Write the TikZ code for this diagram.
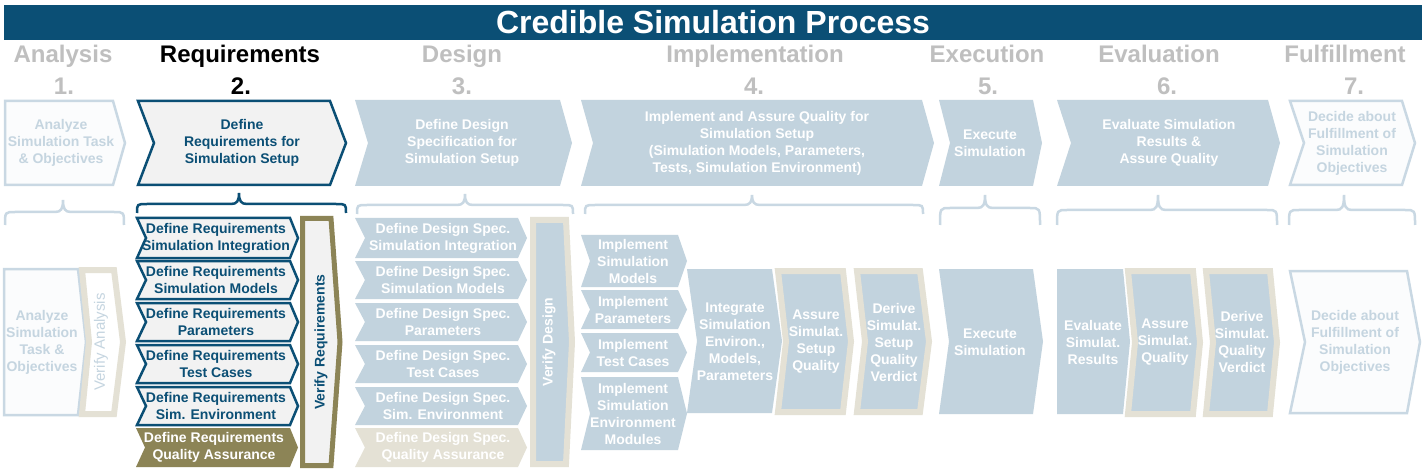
\documentclass[tikz,border=0pt]{standalone}
\usepackage{fontspec}
\setmainfont{Liberation Sans}
\definecolor{dkblue}{HTML}{0B4F75}
\definecolor{lblue}{HTML}{C2D3DE}
\definecolor{ltext}{HTML}{C5D5E0}
\definecolor{lborder}{HTML}{C9D8E3}
\definecolor{beige}{HTML}{E4E1D5}
\definecolor{olive}{HTML}{8C8456}
\definecolor{hgray}{HTML}{BFBFBF}
\definecolor{lgray}{HTML}{F2F2F2}
\definecolor{wfill}{HTML}{FBFCFD}
\newcommand{\chv}[7]{\path[#1] (#2,#3) -- (#4,#3) -- ({#4+#6},{(#3+#5)/2}) -- (#4,#5) -- (#2,#5) -- ({#2+#7},{(#3+#5)/2}) -- cycle;}
\newcommand{\brc}[7]{\draw[#1] (#2,#7) .. controls (#2,#6) and (#2,#6) .. ({#2+10},#6) -- ({#4-8},#6) .. controls ({#4-2},#6) and (#4,{#6-3}) .. (#4,#5) .. controls (#4,{#6-3}) and ({#4+2},#6) .. ({#4+8},#6) -- ({#3-10},#6) .. controls (#3,#6) and (#3,#6) .. (#3,#7);}
\tikzset{
 txt/.style={align=center, font=\fontsize{14}{17}\selectfont\bfseries, inner sep=0pt},
 wt/.style={txt, text=white},
 dt/.style={txt, text=dkblue},
 lt/.style={txt, text=ltext},
 hd/.style={font=\fontsize{24}{28}\selectfont\bfseries, text=hgray, anchor=base, inner sep=0pt},
 lb/.style={fill=lblue},
 qb/.style={fill=beige},
 topw/.style={fill=wfill, draw=lborder, line width=2.5pt},
 topr/.style={fill=lgray, draw=dkblue, line width=2.5pt},
 rq/.style={fill=lgray, draw=dkblue, line width=2.5pt},
 oq/.style={fill=olive},
 vr/.style={fill=lgray, draw=olive, line width=5pt},
 vd/.style={fill=lblue, draw=beige, line width=6pt},
 va/.style={fill=white, draw=beige, line width=6pt},
 lbr/.style={draw=lborder, line width=2.5pt},
 dbr/.style={draw=dkblue, line width=2.5pt},
}
\begin{document}
\begin{tikzpicture}[x=1pt,y=-1pt]
\useasboundingbox (0,0) rectangle (1427,473);
\fill[white] (0,0) rectangle (1427,473);
% title
\fill[dkblue] (4,5) rectangle (1422,40);
\node[font=\fontsize{32}{36}\selectfont\bfseries, text=white, anchor=base, inner sep=0pt] (title) at (713,34) {Credible Simulation Process};
% headings
\node[hd] (h1) at (63,63) {Analysis};
\node[hd, text=black] (h2) at (240,63) {Requirements};
\node[hd] (h3) at (462,63) {Design};
\node[hd] (h4) at (755,63) {Implementation};
\node[hd] (h5) at (987,63) {Execution};
\node[hd] (h6) at (1159,63) {Evaluation};
\node[hd] (h7) at (1345,63) {Fulfillment};
\node[hd] (n1) at (64,95) {1.};
\node[hd, text=black] (n2) at (241,95) {2.};
\node[hd] (n3) at (462,95) {3.};
\node[hd] (n4) at (754,95) {4.};
\node[hd] (n5) at (988,95) {5.};
\node[hd] (n6) at (1167,95) {6.};
\node[hd] (n7) at (1354,95) {7.};
% top chevrons
\chv{topw}{5}{101}{113}{185}{12}{0}
\chv{topr}{138}{101}{330}{185}{16}{16}
\chv{lb}{355}{100}{560}{186}{12}{13}
\chv{lb}{581}{100}{922}{186}{12}{12}
\chv{lb}{939}{100}{1033}{186}{9}{11}
\chv{lb}{1057}{100}{1268}{186}{12}{14}
\chv{topw}{1290}{101}{1402}{185}{13}{14}
\node[lt] (a0) at (61,143) {Analyze\\Simulation Task\\\& Objectives};
\node[dt] (r0) at (242,143) {Define\\Requirements for\\Simulation Setup};
\node[wt] (d0) at (462,143) {Define Design\\Specification for\\Simulation Setup};
\node[wt] (i0) at (757,143) {Implement and Assure Quality for\\Simulation Setup\\(Simulation Models, Parameters,\\Tests, Simulation Environment)};
\node[wt] (e0) at (990,143) {Execute\\Simulation};
\node[wt] (v0) at (1169,143) {Evaluate Simulation\\Results \&\\Assure Quality};
\node[lt] (f0) at (1352,143) {Decide about\\Fulfillment of\\Simulation\\Objectives};
% braces
\brc{lbr}{5}{124}{63}{200}{212}{225}
\brc{dbr}{137}{346}{239}{193}{204}{213}
\brc{lbr}{357}{573}{465}{194}{205}{214}
\brc{lbr}{585}{923}{752}{195}{205}{214}
\brc{lbr}{940}{1040}{985}{195}{208}{225}
\brc{lbr}{1057}{1277}{1158}{195}{210}{225}
\brc{lbr}{1289}{1415}{1344}{195}{210}{225}
% analysis bottom
\path[topw] (4,269) -- (78,269) -- (86,342) -- (78,415) -- (4,415) -- cycle;
\node[lt] (a1) at (42,342) {Analyze\\Simulation\\Task \&\\Objectives};
\chv{va}{82}{270}{114}{414}{9}{7}
\node[font=\fontsize{15}{17}\selectfont, text=ltext, rotate=90, inner sep=0pt] (va1) at (101,342) {Verify Analysis};
% requirements bottom
\chv{rq}{137}{218}{290}{258}{8}{9}
\chv{rq}{137}{261}{290}{299}{8}{9}
\chv{rq}{137}{303}{290}{341}{8}{9}
\chv{rq}{137}{345}{290}{383}{8}{9}
\chv{rq}{137}{387}{290}{425}{8}{9}
\chv{oq}{136}{428}{290}{467}{8}{9}
\node[dt] (r1) at (216,238) {Define Requirements\\Simulation Integration};
\node[dt] (r2) at (216,280) {Define Requirements\\Simulation Models};
\node[dt] (r3) at (216,322) {Define Requirements\\Parameters};
\node[dt] (r4) at (216,364) {Define Requirements\\Test Cases};
\node[dt] (r5) at (216,406) {Define Requirements\\Sim. Environment};
\node[wt] (r6) at (214,447.5) {Define Requirements\\Quality Assurance};
\chv{vr}{302.5}{218.5}{331}{465.5}{9}{0}
\node[dt, rotate=90] (vr1) at (321,342) {Verify Requirements};
% design bottom
\chv{lb}{355}{218}{518}{258}{9}{10}
\chv{lb}{355}{261}{518}{299}{9}{10}
\chv{lb}{355}{303}{518}{341}{9}{10}
\chv{lb}{355}{345}{518}{383}{9}{10}
\chv{lb}{355}{387}{518}{425}{9}{10}
\chv{qb}{355}{428}{518}{467}{9}{10}
\node[wt] (d1) at (443,238) {Define Design Spec.\\Simulation Integration};
\node[wt] (d2) at (443,280) {Define Design Spec.\\Simulation Models};
\node[wt] (d3) at (443,322) {Define Design Spec.\\Parameters};
\node[wt] (d4) at (443,364) {Define Design Spec.\\Test Cases};
\node[wt] (d5) at (443,406) {Define Design Spec.\\Sim. Environment};
\node[wt] (d6) at (443,447.5) {Define Design Spec.\\Quality Assurance};
\chv{vd}{533}{220}{566}{464}{6}{0}
\node[wt, rotate=90] (vd1) at (549,342) {Verify Design};
% implementation bottom
\chv{lb}{581}{235}{678}{287}{9}{9}
\chv{lb}{581}{290}{678}{329}{9}{9}
\chv{lb}{581}{333}{678}{372}{9}{9}
\chv{lb}{581}{377}{678}{450}{9}{9}
\node[wt] (i1) at (633,261) {Implement\\Simulation\\Models};
\node[wt] (i2) at (633,309.5) {Implement\\Parameters};
\node[wt] (i3) at (633,352.5) {Implement\\Test Cases};
\node[wt] (i4) at (633,413.5) {Implement\\Simulation\\Environment\\Modules};
\chv{lb}{687}{269}{772}{413}{10}{10}
\node[wt] (i5) at (735,342) {Integrate\\Simulation\\Environ.,\\Models,\\Parameters};
\chv{vd}{778}{271}{843}{412}{8}{8}
\node[wt] (i6) at (816,342) {Assure\\Simulat.\\Setup\\Quality};
\chv{vd}{857}{271}{920}{412}{9}{8}
\node[wt] (i7) at (894,342) {Derive\\Simulat.\\Setup\\Quality\\Verdict};
% execution bottom
\chv{lb}{939}{269}{1033}{414}{10}{10}
\node[wt] (e1) at (990,342) {Execute\\Simulation};
% evaluation bottom
\chv{lb}{1057}{269}{1123}{414}{7}{0}
\node[wt] (v1) at (1093,342) {Evaluate\\Simulat.\\Results};
\chv{vd}{1128}{271}{1193}{414}{7}{7}
\node[wt] (v2) at (1165,342) {Assure\\Simulat.\\Quality};
\chv{vd}{1206}{271}{1270}{414}{7}{7}
\node[wt] (v3) at (1242,342) {Derive\\Simulat.\\Quality\\Verdict};
% fulfillment bottom
\chv{topw}{1290}{271}{1407}{413}{13}{15}
\node[lt] (f1) at (1355,342) {Decide about\\Fulfillment of\\Simulation\\Objectives};
\end{tikzpicture}
\end{document}
